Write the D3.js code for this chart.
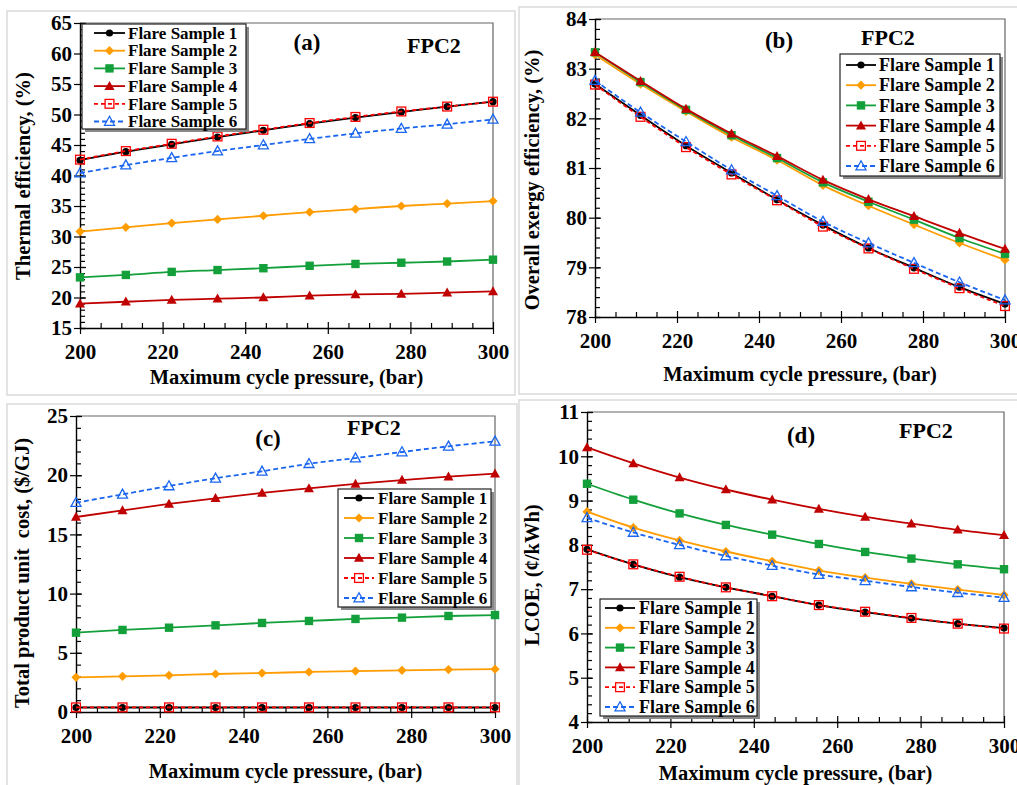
<!DOCTYPE html>
<html lang="en">
<head>
<meta charset="utf-8">
<title>FPC2 - flare samples</title>
<script src="https://cdn.jsdelivr.net/npm/d3@7"></script>
<style>
  body { margin: 0; background: #fff; }
  svg text { font-family: "Liberation Serif", "Times New Roman", serif; font-weight: bold; fill: #000; }
</style>
</head>
<body>
<script>

// x values (maximum cycle pressure, bar)
var pressure = [200, 211.1, 222.2, 233.3, 244.4, 255.6, 266.7, 277.8, 288.9, 300];
var xTicks = [200, 220, 240, 260, 280, 300];
var sampleNames = ["Flare Sample 1", "Flare Sample 2", "Flare Sample 3",
                   "Flare Sample 4", "Flare Sample 5", "Flare Sample 6"];

// (a) thermal efficiency, %
var thermalEff = [
  [42.5, 43.9, 45.1, 46.3, 47.4, 48.5, 49.5, 50.4, 51.3, 52.1],
  [30.8, 31.5, 32.2, 32.8, 33.4, 34.0, 34.5, 35.0, 35.4, 35.8],
  [23.3, 23.7, 24.2, 24.5, 24.8, 25.2, 25.5, 25.7, 25.9, 26.2],
  [19.0, 19.3, 19.6, 19.8, 20.0, 20.3, 20.5, 20.6, 20.8, 21.0],
  [42.6, 44.0, 45.2, 46.4, 47.5, 48.6, 49.6, 50.5, 51.3, 52.1],
  [40.4, 41.7, 42.9, 44.0, 45.0, 46.0, 46.9, 47.7, 48.4, 49.2]
];
var thermalTicks = [15, 20, 25, 30, 35, 40, 45, 50, 55, 60, 65];

// (b) overall exergy efficiency, %
var exergyEff = [
  [82.69, 82.06, 81.45, 80.90, 80.36, 79.85, 79.39, 78.99, 78.60, 78.26],
  [83.28, 82.69, 82.14, 81.62, 81.16, 80.65, 80.24, 79.86, 79.49, 79.15],
  [83.33, 82.73, 82.17, 81.66, 81.20, 80.71, 80.32, 79.96, 79.59, 79.27],
  [83.33, 82.75, 82.19, 81.69, 81.24, 80.76, 80.37, 80.03, 79.69, 79.37],
  [82.68, 82.03, 81.42, 80.87, 80.35, 79.82, 79.38, 78.97, 78.58, 78.22],
  [82.76, 82.12, 81.53, 80.96, 80.44, 79.92, 79.49, 79.09, 78.70, 78.34]
];
var exergyTicks = [78, 79, 80, 81, 82, 83, 84];

// (c) total product unit cost, $/GJ
var productCost = [
  [0.38, 0.38, 0.38, 0.38, 0.38, 0.38, 0.38, 0.38, 0.38, 0.38],
  [2.93, 3.01, 3.10, 3.21, 3.29, 3.38, 3.46, 3.52, 3.58, 3.62],
  [6.70, 6.93, 7.12, 7.32, 7.52, 7.69, 7.86, 7.97, 8.11, 8.19],
  [16.47, 17.03, 17.57, 18.05, 18.50, 18.89, 19.26, 19.59, 19.88, 20.13],
  [0.39, 0.39, 0.39, 0.39, 0.39, 0.39, 0.39, 0.39, 0.39, 0.39],
  [17.68, 18.38, 19.09, 19.74, 20.33, 20.97, 21.45, 21.96, 22.44, 22.86]
];
var costTicks = [0, 5, 10, 15, 20, 25];

// (d) LCOE, cents/kWh
var lcoe = [
  [7.90, 7.56, 7.27, 7.04, 6.84, 6.64, 6.48, 6.34, 6.22, 6.12],
  [8.75, 8.39, 8.10, 7.85, 7.63, 7.42, 7.26, 7.12, 6.99, 6.87],
  [9.38, 9.02, 8.71, 8.45, 8.23, 8.02, 7.84, 7.69, 7.56, 7.45],
  [10.20, 9.84, 9.52, 9.25, 9.02, 8.81, 8.63, 8.48, 8.34, 8.22],
  [7.89, 7.56, 7.28, 7.04, 6.84, 6.64, 6.49, 6.35, 6.22, 6.11],
  [8.61, 8.28, 8.00, 7.75, 7.53, 7.33, 7.19, 7.05, 6.92, 6.81]
];
var lcoeTicks = [4, 5, 6, 7, 8, 9, 10, 11];

// series styles
var colors  = ["#000000", "#ff9c00", "#13a03a", "#c00000", "#ff0000", "#1a66f0"];
var dashes  = [null, null, null, null, "4,3", "5,3"];
var markers = ["circle", "diamond", "square", "triangle", "openSquare", "openTriangle"];

var serif = '"Liberation Serif", "Times New Roman", serif';
var w = 1017, h = 785;

var svg = d3.select("body").append("svg")
  .attr("width", w)
  .attr("height", h);

// panel layouts
var panels = [
  { x0: 80, x1: 493, y0: 23, y1: 328, ticks: thermalTicks, minor: 1, data: thermalEff,
    yTitle: "Thermal efficiency, (%)", yTitleX: 30, yTitleY: 176, xTitleY: 384,
    tag: "(a)", tagX: 307, tagY: 50, fpcX: 407, fpcY: 53,
    frame: [7, 11, 508, 384],
    legend: { x: 82, y: 24, w: 164, h: 105, row0: 33, step: 17.7, lx0: 94, lx1: 125, tx: 128, fs: 17 } },
  { x0: 595, x1: 1005, y0: 19, y1: 317, ticks: exergyTicks, minor: 0.2, data: exergyEff,
    yTitle: "Overall exergy efficiency, (%)", yTitleX: 539, yTitleY: 180, xTitleY: 381,
    tag: "(b)", tagX: 779, tagY: 48, fpcX: 861, fpcY: 45,
    frame: [519, 7, 520, 387],
    legend: { x: 840, y: 54, w: 160, h: 122, row0: 65, step: 20.2, lx0: 846, lx1: 876, tx: 879, fs: 18 } },
  { x0: 76, x1: 495, y0: 416, y1: 712, ticks: costTicks, minor: 1, data: productCost,
    yTitle: "Total product unit  cost, ($/GJ)", yTitleX: 29, yTitleY: 573, xTitleY: 778,
    tag: "(c)", tagX: 268, tagY: 446, fpcX: 347, fpcY: 435,
    frame: [7, 404, 510, 400],
    legend: { x: 338, y: 489, w: 153, h: 118, row0: 498, step: 20, lx0: 344, lx1: 374, tx: 378, fs: 17 } },
  { x0: 587, x1: 1004, y0: 412, y1: 722, ticks: lcoeTicks, minor: 0.2, data: lcoe,
    yTitle: "LCOE, (\u00a2/kWh)", yTitleX: 539, yTitleY: 575, xTitleY: 780,
    tag: "(d)", tagX: 801, tagY: 443, fpcX: 899, fpcY: 438,
    frame: [519, 400, 520, 400],
    legend: { x: 600, y: 599, w: 157, h: 117, row0: 608, step: 19.8, lx0: 605, lx1: 635, tx: 639, fs: 18 } }
];

// draws one marker centred at 0,0 inside group g
function drawMarker(g, type, color) {
  if (type == "circle") {
    g.append("circle").attr("r", 3.6).attr("fill", color);
  } else if (type == "diamond") {
    g.append("path").attr("d", "M0,-4.6L4.6,0L0,4.6L-4.6,0Z").attr("fill", color);
  } else if (type == "square") {
    g.append("rect").attr("x", -4.2).attr("y", -4.2).attr("width", 8.4).attr("height", 8.4).attr("fill", color);
  } else if (type == "triangle") {
    g.append("path").attr("d", "M0,-5.2L5,3.8L-5,3.8Z").attr("fill", color);
  } else if (type == "openSquare") {
    g.append("rect").attr("x", -4.4).attr("y", -4.4).attr("width", 8.8).attr("height", 8.8)
      .attr("fill", "none").attr("stroke", color).attr("stroke-width", 1.3);
  } else {
    g.append("path").attr("d", "M0,-5.2L5,3.8L-5,3.8Z")
      .attr("fill", "none").attr("stroke", color).attr("stroke-width", 1.3);
  }
}

panels.forEach(function(p) {

  var g = svg.append("g");

  // light frame round each sub-figure
  g.append("rect")
    .attr("x", p.frame[0]).attr("y", p.frame[1])
    .attr("width", p.frame[2]).attr("height", p.frame[3])
    .attr("fill", "none").attr("stroke", "#dcdcdc").attr("stroke-width", 1.6);

  var xScale = d3.scaleLinear().domain([200, 300]).range([p.x0, p.x1]);
  var yScale = d3.scaleLinear()
    .domain([p.ticks[0], p.ticks[p.ticks.length - 1]])
    .range([p.y1, p.y0]);

  // top and right edges of the plot area
  g.append("path")
    .attr("d", "M" + p.x0 + "," + p.y0 + "H" + p.x1 + "V" + p.y1)
    .attr("fill", "none").attr("stroke", "#666").attr("stroke-width", 1.2);

  // minor ticks (inside)
  var xMinor = d3.range(200, 301, 5).filter(function(v) { return v % 20 != 0; });
  var n = Math.round((yScale.domain()[1] - yScale.domain()[0]) / p.minor);
  var yMinor = d3.range(0, n + 1).map(function(i) { return yScale.domain()[0] + i * p.minor; });

  var xm = g.append("g").attr("transform", "translate(0," + p.y1 + ")")
    .call(d3.axisBottom(xScale).tickValues(xMinor).tickSize(-5).tickFormat(""));
  xm.select(".domain").remove();
  var ym = g.append("g").attr("transform", "translate(" + p.x0 + ",0)")
    .call(d3.axisLeft(yScale).tickValues(yMinor).tickSize(-5).tickFormat(""));
  ym.select(".domain").remove();

  // major axes, ticks crossing the axis line
  var xAxis = g.append("g").attr("transform", "translate(0," + p.y1 + ")")
    .call(d3.axisBottom(xScale).tickValues(xTicks).tickFormat(d3.format("d"))
      .tickSize(6).tickSizeOuter(0).tickPadding(10));
  xAxis.selectAll(".tick line").attr("y1", -6);
  xAxis.selectAll(".tick text").attr("y", 16);

  var yAxis = g.append("g").attr("transform", "translate(" + p.x0 + ",0)")
    .call(d3.axisLeft(yScale).tickValues(p.ticks).tickFormat(d3.format("d"))
      .tickSize(6).tickSizeOuter(0).tickPadding(2));
  yAxis.selectAll(".tick line").attr("x1", 6);

  [xm, ym, xAxis, yAxis].forEach(function(a) {
    a.attr("font-family", serif).attr("font-size", "21px").attr("font-weight", "bold");
    a.selectAll("text").style("font-family", serif).style("font-size", "21px")
      .attr("fill", "#000");
    a.selectAll("line").attr("stroke", "#000").attr("stroke-width", 1.2);
    a.selectAll(".domain").attr("stroke", "#000").attr("stroke-width", 1.4);
  });

  // axis titles
  g.append("text")
    .attr("x", (p.x0 + p.x1) / 2).attr("y", p.xTitleY)
    .attr("text-anchor", "middle").style("font-size", "20.5px")
    .text("Maximum cycle pressure, (bar)");
  g.append("text")
    .attr("transform", "translate(" + p.yTitleX + "," + p.yTitleY + ") rotate(-90)")
    .attr("text-anchor", "middle").style("font-size", "20.5px")
    .style("white-space", "pre")
    .text(p.yTitle);

  // series lines then markers
  var line = d3.line()
    .x(function(d, i) { return xScale(pressure[i]); })
    .y(function(d) { return yScale(d); })
    .curve(d3.curveMonotoneX);

  p.data.forEach(function(series, s) {
    g.append("path")
      .datum(series)
      .attr("d", line)
      .attr("fill", "none")
      .attr("stroke", colors[s])
      .attr("stroke-width", 1.8)
      .attr("stroke-dasharray", dashes[s]);
    series.forEach(function(v, i) {
      var m = g.append("g")
        .attr("transform", "translate(" + xScale(pressure[i]) + "," + yScale(v) + ")");
      drawMarker(m, markers[s], colors[s]);
    });
  });

  // panel labels
  g.append("text").attr("x", p.tagX).attr("y", p.tagY)
    .attr("text-anchor", "middle").style("font-size", "23px").text(p.tag);
  g.append("text").attr("x", p.fpcX).attr("y", p.fpcY)
    .style("font-size", "22px").text("FPC2");

  // legend with a drop shadow
  var lg = p.legend;
  var leg = g.append("g");
  leg.append("rect")
    .attr("x", lg.x + 3).attr("y", lg.y + 3).attr("width", lg.w).attr("height", lg.h)
    .attr("fill", "#8a8a8a");
  leg.append("rect")
    .attr("x", lg.x).attr("y", lg.y).attr("width", lg.w).attr("height", lg.h)
    .attr("fill", "#fff").attr("stroke", "#222").attr("stroke-width", 1.2);

  sampleNames.forEach(function(name, s) {
    var ry = lg.row0 + s * lg.step;
    leg.append("line")
      .attr("x1", lg.lx0).attr("x2", lg.lx1).attr("y1", ry).attr("y2", ry)
      .attr("stroke", colors[s]).attr("stroke-width", 1.8)
      .attr("stroke-dasharray", dashes[s]);
    drawMarker(leg.append("g").attr("transform", "translate(" + (lg.lx0 + lg.lx1) / 2 + "," + ry + ")"),
      markers[s], colors[s]);
    leg.append("text")
      .attr("x", lg.tx).attr("y", ry).attr("dy", "0.34em")
      .style("font-size", lg.fs + "px")
      .style("font-family", serif)
      .text(name);
  });
});

</script>
</body>
</html>
